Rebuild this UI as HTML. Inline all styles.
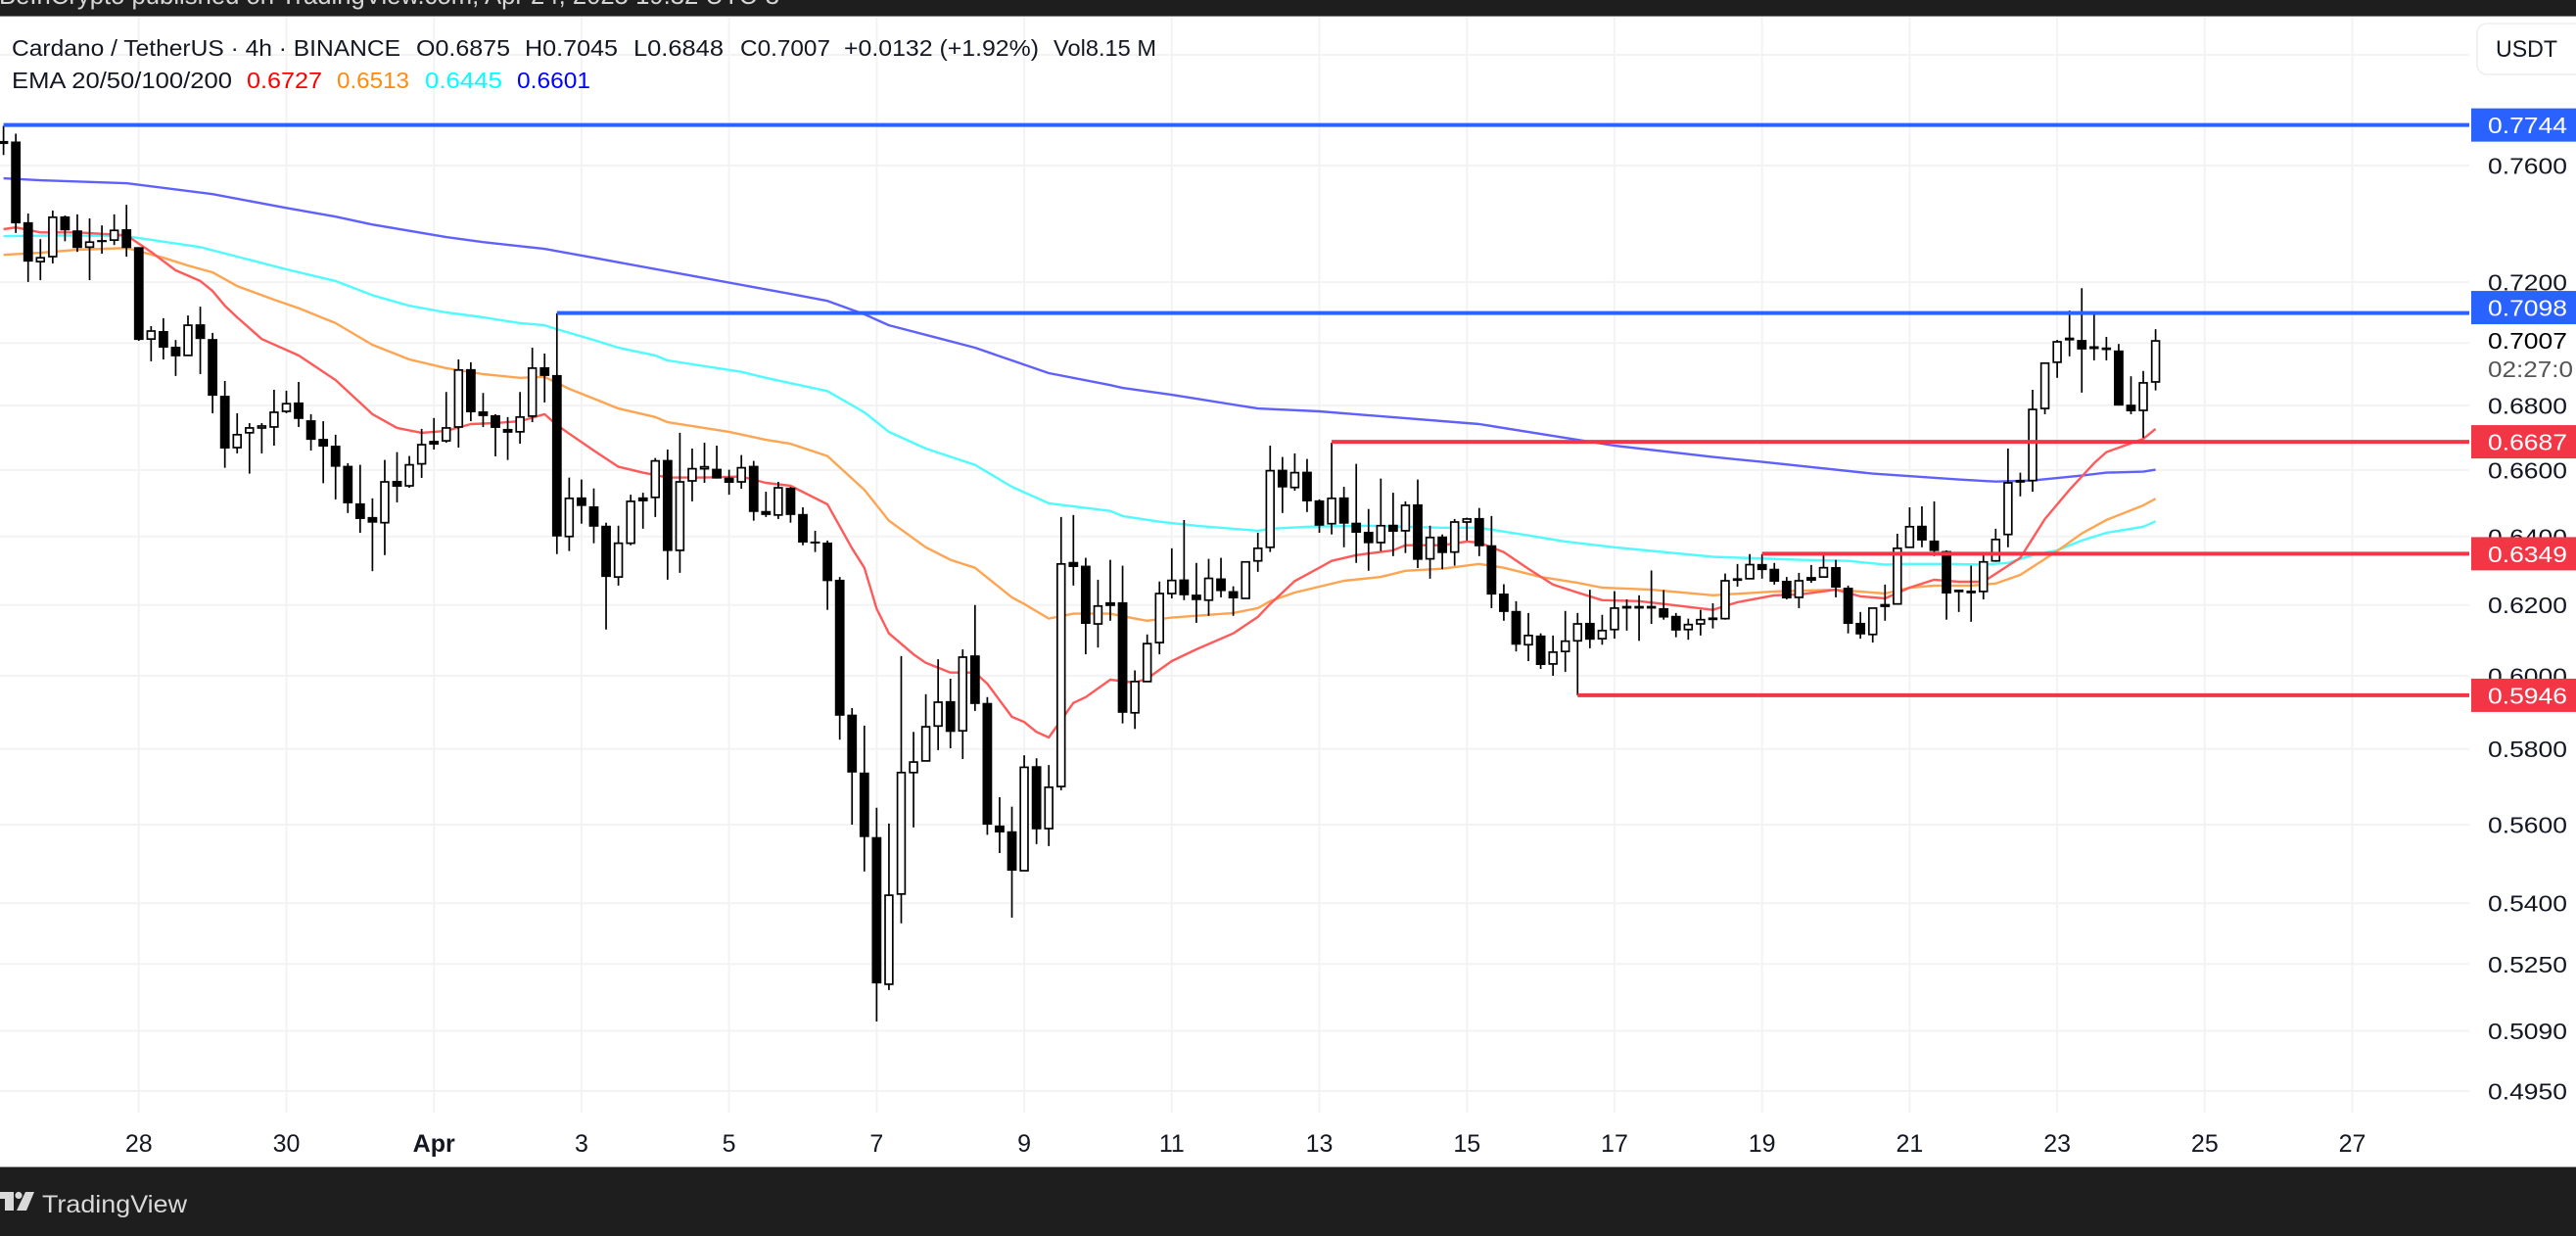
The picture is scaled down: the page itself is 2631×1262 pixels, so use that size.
<!DOCTYPE html>
<html lang="en">
<head>
<meta charset="utf-8">
<title>Cardano / TetherUS 4h chart</title>
<style>
html,body{margin:0;padding:0;background:#fff;width:2631px;height:1262px;overflow:hidden}
svg{display:block}
text{font-family:"Liberation Sans",sans-serif}
</style>
</head>
<body>
<svg id="chart" xmlns="http://www.w3.org/2000/svg" width="2631" height="1262" viewBox="0 0 2631 1262">
  <rect x="0" y="0" width="2631" height="1262" fill="#ffffff"/>
  <g id="grid"></g>
  <g id="emas"></g>
  <g id="candles"></g>
  <g id="levels"></g>
  <g id="yaxis"></g>
  <g id="xaxis"></g>

  <g font-size="23.5" fill="#131722">
    <text x="12" y="57" textLength="397" lengthAdjust="spacingAndGlyphs">Cardano / TetherUS · 4h · BINANCE</text>
    <text x="425" y="57" textLength="96" lengthAdjust="spacingAndGlyphs">O0.6875</text>
    <text x="536" y="57" textLength="95" lengthAdjust="spacingAndGlyphs">H0.7045</text>
    <text x="647" y="57" textLength="92" lengthAdjust="spacingAndGlyphs">L0.6848</text>
    <text x="756" y="57" textLength="92" lengthAdjust="spacingAndGlyphs">C0.7007</text>
    <text x="862" y="57" textLength="199" lengthAdjust="spacingAndGlyphs">+0.0132 (+1.92%)</text>
    <text x="1076" y="57" textLength="105" lengthAdjust="spacingAndGlyphs">Vol8.15 M</text>
    <text x="12" y="90" textLength="225" lengthAdjust="spacingAndGlyphs">EMA 20/50/100/200</text>
    <text x="252" y="90" textLength="77" lengthAdjust="spacingAndGlyphs" fill="#ff0000">0.6727</text>
    <text x="344" y="90" textLength="74" lengthAdjust="spacingAndGlyphs" fill="#ff8a0f">0.6513</text>
    <text x="434" y="90" textLength="79" lengthAdjust="spacingAndGlyphs" fill="#00ffff">0.6445</text>
    <text x="528" y="90" textLength="75" lengthAdjust="spacingAndGlyphs" fill="#0000ff">0.6601</text>
  </g>

  <g>
    <rect x="2530" y="24" width="120" height="52" rx="10" fill="#ffffff" stroke="#eeeeee" stroke-width="1.5"/>
    <text x="2549" y="58" font-size="24" fill="#131722" textLength="63" lengthAdjust="spacingAndGlyphs">USDT</text>
  </g>

  <g>
    <rect x="0" y="0" width="2631" height="16" fill="#1e1e1e"/>
    <rect x="0" y="16" width="2631" height="1" fill="#777777"/>
    <text x="-1" y="4" font-size="26" fill="#d6d6d6" textLength="797" lengthAdjust="spacingAndGlyphs">BeInCrypto published on TradingView.com, Apr 24, 2025 19:32 UTC-3</text>
  </g>

  <g>
    <rect x="0" y="1191" width="2631" height="71" fill="#1e1e1e"/>
    <rect x="0" y="1191" width="2631" height="1" fill="#999999"/>
    <g fill="#d9d9d9">
      <path d="M-4 1217H14V1236H5V1224H-4Z"/>
      <circle cx="19" cy="1220.5" r="3.6"/>
      <path d="M26 1217H35L27 1236H17Z"/>
      <text x="43" y="1238" font-size="25" textLength="148" lengthAdjust="spacingAndGlyphs">TradingView</text>
    </g>
  </g>
</svg>

<script>
// ----- chart data (prices in USDT, one entry per 4h bar) -----
const opens = [
.7679,.7685,.7403,.7269,.7286,.7423,.7375,.7318,.7342,.7342,
.7379,.7318,.7013,.7039,.6988,.6960,.7061,.7013,.6831,.6669,
.6715,.6730,.6733,.6782,.6810,.6754,.6696,.6675,.6613,.6499,
.6458,.6441,.6567,.6552,.6619,.6690,.6690,.6733,.6916,.6782,
.6770,.6727,.6718,.6767,.6922,.6897,.6400,.6517,.6490,.6432,
.6281,.6380,.6517,.6517,.6631,.6359,.6567,.6604,.6604,.6577,
.6564,.6613,.6476,.6464,.6546,.6467,.6385,.6382,.6273,.5893,
.5737,.5568,.5201,.5423,.5737,.5768,.5862,.5930,.5849,.6057,
.5925,.5598,.5583,.5482,.5754,.5590,.5700,.6325,.6314,.6146,
.6208,.6208,.5898,.5984,.6093,.6233,.6274,.6230,.6214,.6277,
.6240,.6219,.6328,.6368,.6601,.6547,.6595,.6508,.6438,.6517,
.6441,.6414,.6382,.6435,.6417,.6496,.6334,.6400,.6354,.6443,
.6455,.6374,.6233,.6183,.6087,.6113,.6033,.6068,.6098,.6149,
.6104,.6130,.6192,.6192,.6192,.6191,.6169,.6130,.6146,.6159,
.6161,.6272,.6276,.6319,.6305,.6270,.6222,.6281,.6281,.6310,
.6250,.6149,.6116,.6203,.6203,.6368,.6432,.6388,.6357,.6239,
.6236,.6239,.6328,.6406,.6564,.6568,.6791,.6938,.7011,.7010,
.6983,.6980,.6976,.6803,.6785,.6875];
const highs = [
.7741,.7713,.7433,.7345,.7443,.7426,.7430,.7416,.7392,.7430,
.7463,.7318,.7055,.7081,.7010,.7090,.7119,.7033,.6878,.6776,
.6745,.6745,.6850,.6847,.6875,.6773,.6751,.6709,.6621,.6616,
.6514,.6631,.6655,.6643,.6727,.6761,.6843,.6947,.6938,.6840,
.6773,.6764,.6843,.6985,.6966,.7097,.6577,.6571,.6544,.6441,
.6432,.6525,.6531,.6637,.6663,.6715,.6666,.6684,.6675,.6601,
.6646,.6628,.6534,.6564,.6549,.6487,.6417,.6388,.6281,.5911,
.5863,.5644,.5603,.6055,.5846,.5949,.6046,.5992,.6074,.6200,
.5941,.5672,.5647,.5783,.5775,.5757,.6458,.6464,.6337,.6273,
.6331,.6314,.6015,.6116,.6268,.6365,.6449,.6322,.6334,.6337,
.6254,.6325,.6411,.6675,.6640,.6651,.6634,.6511,.6684,.6549,
.6619,.6482,.6574,.6531,.6505,.6571,.6432,.6406,.6452,.6456,
.6485,.6461,.6260,.6211,.6177,.6119,.6113,.6183,.6177,.6244,
.6172,.6240,.6216,.6228,.6300,.6243,.6177,.6161,.6186,.6205,
.6291,.6319,.6348,.6348,.6322,.6281,.6293,.6316,.6348,.6331,
.6256,.6180,.6191,.6259,.6408,.6487,.6490,.6505,.6359,.6244,
.6314,.6351,.6423,.6666,.6592,.6850,.6935,.7010,.7106,.7180,
.7103,.7020,.6997,.6893,.6910,.7045];
const lows = [
.7637,.7366,.7201,.7207,.7263,.7338,.7302,.7207,.7296,.7325,
.7286,.7007,.6941,.6947,.6894,.6960,.6900,.6776,.6607,.6651,
.6589,.6651,.6675,.6776,.6733,.6660,.6560,.6511,.6470,.6411,
.6298,.6345,.6502,.6546,.6576,.6663,.6684,.6669,.6751,.6733,
.6642,.6631,.6681,.6748,.6810,.6348,.6357,.6438,.6380,.6130,
.6256,.6374,.6423,.6458,.6273,.6293,.6505,.6561,.6574,.6525,
.6543,.6447,.6458,.6452,.6441,.6374,.6354,.6186,.5825,.5600,
.5480,.5112,.5187,.5350,.5593,.5768,.5797,.5802,.5773,.5903,
.5574,.5527,.5364,.5482,.5550,.5545,.5690,.6256,.6060,.6079,
.6155,.5869,.5854,.5984,.6060,.6219,.6214,.6149,.6169,.6222,
.6169,.6219,.6296,.6354,.6470,.6537,.6473,.6411,.6406,.6368,
.6322,.6299,.6357,.6342,.6351,.6307,.6276,.6304,.6314,.6388,
.6342,.6191,.6155,.6068,.6041,.6019,.6000,.6011,.5946,.6077,
.6087,.6104,.6127,.6098,.6146,.6158,.6108,.6101,.6113,.6133,
.6158,.6253,.6276,.6276,.6259,.6216,.6191,.6264,.6281,.6222,
.6119,.6104,.6093,.6155,.6203,.6368,.6368,.6342,.6158,.6180,
.6152,.6216,.6325,.6368,.6520,.6534,.6773,.6888,.6957,.6841,
.6944,.6944,.6800,.6773,.6699,.6848];
const closes = [
.7684,.7399,.7269,.7282,.7420,.7375,.7315,.7335,.7335,.7375,
.7315,.7010,.7039,.6985,.6957,.7058,.7013,.6831,.6666,.6709,
.6730,.6736,.6779,.6806,.6758,.6693,.6672,.6610,.6499,.6452,
.6441,.6564,.6549,.6616,.6678,.6678,.6730,.6913,.6779,.6767,
.6730,.6715,.6764,.6919,.6894,.6400,.6514,.6491,.6429,.6281,
.6380,.6505,.6505,.6628,.6357,.6564,.6604,.6610,.6574,.6561,
.6607,.6473,.6464,.6546,.6464,.6382,.6380,.6269,.5890,.5737,
.5568,.5203,.5420,.5737,.5765,.5860,.5927,.5846,.6052,.5922,
.5600,.5580,.5482,.5751,.5588,.5698,.6319,.6310,.6146,.6197,
.6197,.5898,.5984,.6090,.6233,.6271,.6228,.6214,.6277,.6240,
.6219,.6325,.6365,.6598,.6547,.6592,.6505,.6432,.6514,.6438,
.6411,.6380,.6432,.6414,.6493,.6331,.6397,.6351,.6443,.6452,
.6371,.6230,.6180,.6087,.6113,.6030,.6066,.6097,.6146,.6101,
.6127,.6191,.6195,.6195,.6195,.6164,.6127,.6144,.6158,.6162,
.6270,.6275,.6317,.6301,.6267,.6219,.6270,.6270,.6308,.6250,
.6146,.6116,.6191,.6194,.6365,.6429,.6388,.6357,.6233,.6242,
.6239,.6325,.6391,.6561,.6567,.6788,.6935,.7004,.7015,.6979,
.6987,.6983,.6800,.6782,.6872,.7007];

const ema20Bars = [0,1,3,6,10,12,14,16,17,18,19,21,24,27,30,32,34,36,38,40,42,44,45,46,48,50,52,54,57,60,62,64,67,69,70,71,72,74,75,77,79,80,82,83,84,85,87,88,90,92,93,95,97,100,102,103,105,107,108,110,113,114,117,119,120,122,124,126,128,130,133,135,139,141,144,146,149,151,153,155,157,159,161,163,164,165,166,168,170,171,174,175];
const ema20Values = [.7379,.7385,.7368,.7368,.7358,.7302,.7240,.7204,.7171,.7122,.7084,.7013,.6960,.6881,.6773,.6730,.6715,.6721,.6742,.6745,.6751,.6773,.6739,.6712,.6660,.6610,.6592,.6577,.6577,.6580,.6561,.6552,.6496,.6365,.6308,.6189,.6119,.6060,.6036,.6009,.6009,.5978,.5887,.5873,.5846,.5831,.5925,.5941,.5989,.5981,.5992,.6041,.6074,.6119,.6166,.6203,.6269,.6308,.6328,.6345,.6359,.6374,.6374,.6385,.6382,.6354,.6305,.6259,.6236,.6214,.6211,.6203,.6186,.6208,.6228,.6230,.6244,.6225,.6219,.6250,.6273,.6267,.6267,.6314,.6337,.6394,.6452,.6540,.6621,.6655,.6696,.6727];
const ema50Bars = [0,3,6,10,13,15,17,19,22,24,27,30,33,36,39,42,44,46,48,50,53,54,59,62,64,67,70,72,75,77,79,82,83,85,87,90,92,93,95,100,102,103,105,107,109,112,114,117,120,122,125,128,130,134,139,144,149,153,155,157,160,162,164,167,169,171,174,175];
const ema50Values = [.7292,.7299,.7309,.7315,.7282,.7256,.7233,.7187,.7142,.7114,.7065,.6994,.6947,.6919,.6900,.6888,.6891,.6853,.6822,.6791,.6764,.6748,.6718,.6693,.6681,.6643,.6540,.6447,.6368,.6331,.6308,.6222,.6203,.6161,.6175,.6175,.6161,.6155,.6164,.6177,.6191,.6211,.6236,.6253,.6270,.6281,.6299,.6305,.6319,.6308,.6281,.6264,.6250,.6244,.6228,.6239,.6244,.6233,.6250,.6256,.6256,.6262,.6287,.6357,.6409,.6449,.6493,.6513];
const ema100Bars = [0,5,10,16,19,23,27,30,33,36,39,42,44,45,48,50,53,54,60,62,67,70,72,75,79,82,85,90,91,94,97,102,103,106,111,117,120,124,127,131,135,139,146,150,153,155,158,161,163,165,167,169,171,174,175];
const ema100Values = [.7355,.7358,.7355,.7318,.7286,.7243,.7204,.7157,.7122,.7100,.7084,.7065,.7058,.7045,.7010,.6985,.6960,.6944,.6907,.6888,.6846,.6779,.6718,.6666,.6616,.6549,.6499,.6476,.6461,.6444,.6432,.6417,.6423,.6429,.6432,.6426,.6426,.6403,.6385,.6368,.6354,.6340,.6331,.6328,.6317,.6319,.6319,.6317,.6322,.6345,.6359,.6388,.6411,.6429,.6445];
const ema200Bars = [0,3,10,17,23,27,30,36,39,44,48,57,64,67,70,72,76,79,82,85,90,91,95,102,107,120,128,131,139,143,152,159,162,165,169,171,174,175];
const ema200Values = [.7555,.7548,.7538,.7500,.7452,.7422,.7395,.7352,.7335,.7312,.7282,.7214,.7161,.7138,.7094,.7058,.7016,.6985,.6944,.6903,.6865,.6856,.6834,.6791,.6782,.6742,.6693,.6675,.6640,.6625,.6589,.6571,.6565,.6568,.6583,.6592,.6595,.6601];

const levelValues = [.7744,.7098,.6687,.6349,.5946];
const levelStartBars = [0,45,108,143,128];
const levelKinds = ['resistance','resistance','support','support','support'];

const priceTicks = [.76,.72,.70,.68,.66,.64,.62,.60,.58,.56,.54,.525,.509,.495];
const unlabeledPriceGrid = [.80];
const timeTickLabels = ['28','30','Apr','3','5','7','9','11','13','15','17','19','21','23','25','27'];
const lastPriceText = '0.7007';
const countdownText = '02:27:0';

// ----- axis functions -----
function xBar(i){ return 3.6 + 12.56 * i; }
function yPrice(p){ return 169 + 2204 * Math.log(0.76 / p); }
function timeTickBar(k){ return 11 + 12 * k; }

const NS = 'http://www.w3.org/2000/svg';
function mk(tag, attrs, parent){
  const e = document.createElementNS(NS, tag);
  for (const k in attrs) e.setAttribute(k, attrs[k]);
  parent.appendChild(e);
  return e;
}
const gridG = document.getElementById('grid');
const emaG = document.getElementById('emas');
const candleG = document.getElementById('candles');
const levelG = document.getElementById('levels');
const yG = document.getElementById('yaxis');
const xG = document.getElementById('xaxis');
const PLOT_RIGHT = 2522, GRID_COLOR = '#f3f3f3';

// grid
priceTicks.concat(unlabeledPriceGrid).forEach(function(p){
  const el = mk('line', {x1:0, x2:PLOT_RIGHT, y1:yPrice(p), y2:yPrice(p), stroke:GRID_COLOR, 'stroke-width':2}, gridG);
  
  
});
timeTickLabels.forEach(function(t, k){
  const x = xBar(timeTickBar(k));
  const el = mk('line', {x1:x, x2:x, y1:17, y2:1136, stroke:GRID_COLOR, 'stroke-width':2}, gridG);
  
  
});

// EMA lines
function emaPath(bars, vals){
  return bars.map(function(b, i){ return (i ? 'L' : 'M') + xBar(b).toFixed(1) + ' ' + yPrice(vals[i]).toFixed(1); }).join('');
}
const ema200Line = mk('path', {d:emaPath(ema200Bars, ema200Values), fill:'none', stroke:'#6060ff', 'stroke-width':2.4, 'stroke-linejoin':'round'}, emaG);


const ema100Line = mk('path', {d:emaPath(ema100Bars, ema100Values), fill:'none', stroke:'#50fbff', 'stroke-width':2.4, 'stroke-linejoin':'round'}, emaG);


const ema50Line = mk('path', {d:emaPath(ema50Bars, ema50Values), fill:'none', stroke:'#ffa552', 'stroke-width':2.4, 'stroke-linejoin':'round'}, emaG);


const ema20Line = mk('path', {d:emaPath(ema20Bars, ema20Values), fill:'none', stroke:'#ff5a5a', 'stroke-width':2.4, 'stroke-linejoin':'round'}, emaG);



// candles
opens.forEach(function(o, i){
  const c = closes[i], x = xBar(i);
  const wick = mk('line', {x1:x, x2:x, y1:yPrice(highs[i]), y2:yPrice(lows[i]), stroke:'#000', 'stroke-width':1.7}, candleG);
  
  
  const top = yPrice(Math.max(o, c)), bottom = yPrice(Math.min(o, c));
  const isUp = c >= o;
  const h = Math.max(bottom - top, 1);
  const body = isUp
    ? mk('rect', {x:x - 3.9, y:top, width:7.8, height:h, fill:'#ffffff', stroke:'#000', 'stroke-width':1.7}, candleG)
    : mk('rect', {x:x - 4.9, y:top, width:9.8, height:Math.max(h, 2), fill:'#000'}, candleG);
  
  
});

// price axis tick labels (a tick hidden when it collides with the last-price label)
const LABEL_X = 2541, LABEL_W = 81;
const lastY = yPrice(closes[closes.length - 1]);
priceTicks.forEach(function(p){
  if (Math.abs(yPrice(p) - lastY) < 20) return;
  const el = mk('text', {x:LABEL_X, y:yPrice(p) + 8.5, 'font-size':23.5, fill:'#131722', textLength:LABEL_W, lengthAdjust:'spacingAndGlyphs'}, yG);
  el.textContent = p.toFixed(4);
  
  
});

// last price and countdown
const lastLabel = mk('text', {x:LABEL_X, y:lastY + 8, 'font-size':23.5, fill:'#000000', textLength:LABEL_W, lengthAdjust:'spacingAndGlyphs'}, yG);
lastLabel.textContent = lastPriceText;


const countdown = mk('text', {x:LABEL_X, y:lastY + 37, 'font-size':23.5, fill:'#555555', textLength:87, lengthAdjust:'spacingAndGlyphs'}, yG);
countdown.textContent = countdownText;



// horizontal levels and price tags
levelValues.forEach(function(v, i){
  const color = levelKinds[i] === 'resistance' ? '#2962ff' : '#f23645';
  const y = yPrice(v);
  const line = mk('line', {x1:xBar(levelStartBars[i]), x2:PLOT_RIGHT, y1:y, y2:y, stroke:color, 'stroke-width':4}, levelG);
  
  
  const tagY = (y < lastY && lastY - y < 34) ? lastY - 34 : y;
  const tag = mk('rect', {x:2524, y:tagY - 17, width:107, height:34, fill:color}, yG);
  
  
  const txt = mk('text', {x:LABEL_X, y:tagY + 8.5, 'font-size':23.5, fill:'#ffffff', textLength:LABEL_W, lengthAdjust:'spacingAndGlyphs'}, yG);
  txt.textContent = v.toFixed(4);
  
  
});

// time axis labels
timeTickLabels.forEach(function(t, k){
  const attrs = {x:xBar(timeTickBar(k)), y:1176, 'font-size':25, fill:'#131722', 'text-anchor':'middle'};
  if (t === 'Apr') attrs['font-weight'] = 'bold';
  const el = mk('text', attrs, xG);
  el.textContent = t;
  
  
});
</script>
</body>
</html>
